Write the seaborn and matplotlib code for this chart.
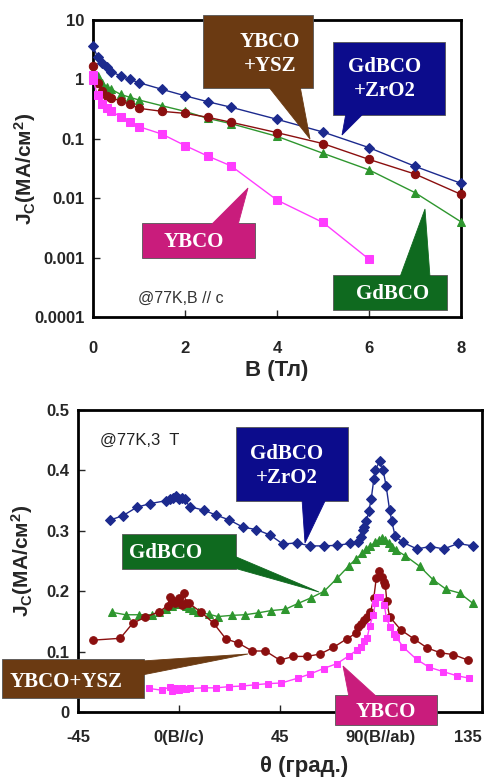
import matplotlib
matplotlib.use("Agg")
import matplotlib.pyplot as plt
from matplotlib.patches import Rectangle, Polygon
from matplotlib.ticker import NullLocator
import seaborn as sns
import pandas as pd

# ---- data: Jc(B), 77K, B // c ----
b_main = [0, 0.1, 0.2, 0.3, 0.4, 0.6, 0.8, 1.0, 1.5, 2, 2.5, 3, 4, 5, 6, 7, 8]
jc_gdbco_zro2 = [3.65, 2.36, 1.91, 1.64, 1.35, 1.14, 1.0, 0.88, 0.68, 0.53, 0.42, 0.34,
                 0.213, 0.13, 0.071, 0.0344, 0.0178]
jc_ybco_ysz = [1.70, 0.87, 0.65, 0.53, 0.48, 0.44, 0.38, 0.326, 0.29, 0.268, 0.23, 0.19,
               0.127, 0.083, 0.045, 0.0255, 0.0116]
jc_gdbco = [1.40, 1.15, 0.88, 0.75, 0.68, 0.56, 0.50, 0.45, 0.36, 0.29, 0.22, 0.18,
            0.11, 0.057, 0.030, 0.0124, 0.0040]
b_ybco = [0, 0, 0.1, 0.2, 0.3, 0.4, 0.6, 0.8, 1.0, 1.5, 2, 2.5, 3, 4, 5, 6]
jc_ybco = [1.2, 0.98, 0.55, 0.38, 0.33, 0.29, 0.235, 0.195, 0.16, 0.12, 0.077, 0.051,
           0.035, 0.0093, 0.0039, 0.00094]

# ---- data: Jc(theta), 77K, 3 T ----
th_gdbco_zro2 = [-30.6, -25, -18.8, -12.9, -5.6, -4.1, -2.5, -1.5, 0, 1.5, 2.6, 4.7, 11.2,
                 16.5, 22.4, 28.5, 34.5, 40.6, 46.3, 52.4, 58.4, 64.5, 70.6, 76.2, 79.8,
                 80.9, 82.0, 82.6, 83.5, 84.6, 85.6, 86.8, 87.5, 89.5, 90.9, 92.3, 93.8,
                 94.8, 96.3, 99.7, 106, 112, 118, 124.3, 130.8]
a_gdbco_zro2 = [0.318, 0.325, 0.339, 0.345, 0.350, 0.353, 0.355, 0.358, 0.353, 0.355, 0.352,
                0.340, 0.334, 0.326, 0.318, 0.306, 0.302, 0.293, 0.278, 0.280, 0.275, 0.275,
                0.276, 0.279, 0.281, 0.290, 0.302, 0.306, 0.316, 0.333, 0.352, 0.385, 0.401,
                0.416, 0.401, 0.374, 0.335, 0.316, 0.291, 0.281, 0.270, 0.274, 0.270, 0.279,
                0.275]
th_gdbco = [-29.7, -23.8, -18, -12, -9, -6, -3, -1, 0, 1.5, 3, 4.4, 6.3, 8.5, 13.2, 17.3,
            23.5, 29.4, 35, 41.2, 47.3, 53.2, 58.8, 64.7, 70.6, 75.7, 78.7, 81.6, 83.5,
            85.3, 87.5, 89, 90.4, 91.9, 93.4, 94.8, 96.7, 100.7, 107.3, 113.2, 119.1, 125,
            130.9]
a_gdbco = [0.165, 0.161, 0.161, 0.161, 0.166, 0.170, 0.175, 0.179, 0.181, 0.180, 0.176,
           0.173, 0.169, 0.165, 0.162, 0.158, 0.160, 0.161, 0.164, 0.168, 0.170, 0.180,
           0.189, 0.200, 0.222, 0.242, 0.253, 0.263, 0.270, 0.275, 0.281, 0.285, 0.288,
           0.284, 0.280, 0.274, 0.268, 0.259, 0.241, 0.219, 0.203, 0.197, 0.180]
th_ybco_ysz = [-38.2, -26.2, -20.6, -15, -8.8, -5.1, -4.1, -2.9, -1.8, 0, 1.5, 2.2, 3.2,
               4.4, 9.6, 15.4, 20.9, 26.5, 32.6, 38.5, 44.9, 51, 57, 62.9, 68.8, 74.7,
               78.7, 79.7, 80.9, 82.3, 83.8, 85.3, 86.8, 87.9, 89.2, 90.3, 91.2, 91.9,
               92.6, 93.8, 98.8, 104.7, 110.6, 116.5, 122.3, 128.7]
a_ybco_ysz = [0.119, 0.122, 0.147, 0.157, 0.166, 0.176, 0.190, 0.186, 0.180, 0.189, 0.177,
              0.197, 0.180, 0.180, 0.166, 0.147, 0.121, 0.114, 0.101, 0.101, 0.086, 0.092,
              0.092, 0.096, 0.107, 0.121, 0.130, 0.140, 0.146, 0.152, 0.157, 0.165, 0.189,
              0.222, 0.233, 0.224, 0.216, 0.211, 0.183, 0.158, 0.136, 0.121, 0.106, 0.098,
              0.095, 0.086]
th_ybco = [-13.5, -7.4, -4.1, -2.9, -1.8, 0, 1.5, 3.2, 4.7, 11, 16.5, 22.4, 28.2, 33.8,
           39.7, 45.6, 52.9, 58.5, 64.4, 70.3, 75.7, 79.1, 81.2, 82.3, 83.8, 85, 86.5,
           87.5, 88.2, 89.7, 91.5, 92.4, 94.1, 95.9, 96.8, 100, 105.9, 111.5, 117.6,
           123.8, 129.4]
a_ybco = [0.039, 0.036, 0.042, 0.034, 0.039, 0.036, 0.039, 0.038, 0.039, 0.040, 0.040,
          0.042, 0.043, 0.045, 0.047, 0.048, 0.056, 0.063, 0.072, 0.080, 0.093, 0.102,
          0.107, 0.117, 0.122, 0.143, 0.161, 0.180, 0.190, 0.190, 0.177, 0.155, 0.141,
          0.129, 0.124, 0.107, 0.087, 0.074, 0.067, 0.060, 0.056]

# colours per sample
C_BLUE, C_RED, C_GREEN, C_MAG = "#1c2a8e", "#8b0f0f", "#2e962e", "#ff3cff"
BOX_BLUE, BOX_BROWN, BOX_GREEN, BOX_MAG = "#0c0c8c", "#6b3a12", "#0f6a1f", "#c91c7c"

sns.set_style("ticks")
plt.rcParams["font.family"] = ["Liberation Sans", "DejaVu Sans"]
plt.rcParams["mathtext.default"] = "regular"

W, H = 485, 779
fig = plt.figure(figsize=(W / 100, H / 100), dpi=100)
ax1 = fig.add_axes([93 / W, 1 - 317 / H, (461 - 93) / W, (317 - 20) / H])
ax2 = fig.add_axes([78 / W, 1 - 712 / H, (482 - 78) / W, (712 - 410) / H])


def draw(ax, x, y, color, marker, ms):
    df = pd.DataFrame({"x": x, "y": y})
    sns.lineplot(data=df, x="x", y="y", ax=ax, estimator=None, sort=False,
                 color=color, lw=1.0, marker=marker, markersize=ms,
                 markerfacecolor=color, markeredgecolor=color, clip_on=False, zorder=3)


# ---- top panel ----
draw(ax1, b_main, jc_gdbco, C_GREEN, "^", 6)
draw(ax1, b_main, jc_ybco_ysz, C_RED, "o", 6)
draw(ax1, b_ybco, jc_ybco, C_MAG, "s", 5.5)
draw(ax1, b_main, jc_gdbco_zro2, C_BLUE, "D", 5)
ax1.set_yscale("log")
ax1.set_xlim(0, 8)
ax1.set_ylim(1e-4, 10)
ax1.set_xticks([0, 2, 4, 6, 8])
ax1.set_yticks([1e-4, 1e-3, 1e-2, 1e-1, 1, 10])
ax1.set_yticklabels(["0.0001", "0.001", "0.01", "0.1", "1", "10"])
ax1.yaxis.set_minor_locator(NullLocator())
ax1.set_xlabel("B (Тл)", fontsize=16, fontweight="bold")
ax1.xaxis.set_label_coords(0.5, -0.145)
ax1.text(0.122, 0.047, "@77K,B // c", transform=ax1.transAxes, fontsize=11.5, color="#333333")

# ---- bottom panel ----
draw(ax2, th_gdbco, a_gdbco, C_GREEN, "^", 5.5)
draw(ax2, th_ybco_ysz, a_ybco_ysz, C_RED, "o", 5.5)
draw(ax2, th_ybco, a_ybco, C_MAG, "s", 5)
draw(ax2, th_gdbco_zro2, a_gdbco_zro2, C_BLUE, "D", 5)
ax2.set_xlim(-45, 135)
ax2.set_ylim(0, 0.5)
ax2.set_xticks([-45, 0, 45, 90, 135])
ax2.set_xticklabels(["-45", "0(B//c)", "45", "90(B//ab)", "135"])
ax2.set_yticks([0, 0.1, 0.2, 0.3, 0.4, 0.5])
ax2.set_yticklabels(["0", "0.1", "0.2", "0.3", "0.4", "0.5"])
ax2.set_xlabel("θ (град.)", fontsize=16, fontweight="bold")
ax2.xaxis.set_label_coords(0.56, -0.145)
ax2.text(0.055, 0.885, "@77K,3  T", transform=ax2.transAxes, fontsize=12, color="#222222")

for ax, lx in ((ax1, -0.15), (ax2, -0.106)):
    ax.set_ylabel("J$_C$(MA/см$^2$)", fontsize=15, fontweight="bold")
    ax.yaxis.set_label_coords(lx, 0.5)
    ax.tick_params(direction="in", length=5, width=1, labelsize=12, pad=6)
    for lab in ax.get_xticklabels() + ax.get_yticklabels():
        lab.set_fontweight("bold")
    for sp in ax.spines.values():
        sp.set_linewidth(2)
        sp.set_color("black")
        sp.set_visible(True)
ax1.tick_params(axis="x", pad=17)
ax2.tick_params(axis="x", pad=13)
ax2.get_xticklabels()[-1].set_ha("right")


# ---- callout boxes (positions in picture pixels) ----
def px(p):
    return (p[0] / W, 1 - p[1] / H)


def callout(text, box, base, tip, color, tx, ty, fs=15):
    x0, y0, x1, y1 = box
    fig.patches.append(Rectangle(px((x0, y1)), (x1 - x0) / W, (y1 - y0) / H,
                                 transform=fig.transFigure, fc=color, ec="#555555",
                                 lw=0.6, zorder=5))
    fig.patches.append(Polygon([px(base[0]), px(base[1]), px(tip)], closed=True,
                               transform=fig.transFigure, fc=color, ec=color,
                               lw=0.6, zorder=5))
    fig.text(*px((tx, ty)), text, color="white", fontsize=fs, fontweight="bold",
             family=["Liberation Serif", "DejaVu Serif"], ha="center", va="center",
             linespacing=1.25, zorder=6)


callout("YBCO\n+YSZ", (203, 15, 313, 88), ((268, 86), (300, 86)), (310, 139),
        BOX_BROWN, 270, 54)
callout("GdBCO\n+ZrO2", (333, 42, 445, 115), ((346, 113), (364, 113)), (342, 135),
        BOX_BLUE, 385, 79)
callout("YBCO", (142, 223, 255, 258), ((211, 225), (238, 225)), (248, 188),
        BOX_MAG, 194, 242)
callout("GdBCO", (333, 275, 447, 310), ((400, 277), (430, 277)), (425, 209),
        BOX_GREEN, 393, 294)

callout("GdBCO\n+ZrO2", (236, 427, 348, 501), ((302, 499), (326, 499)), (305, 543),
        BOX_BLUE, 287, 466)
callout("GdBCO", (122, 534, 236, 569), ((234, 556), (234, 568)), (319, 592),
        BOX_GREEN, 166, 553)
callout("YBCO+YSZ", (2, 659, 144, 698), ((142, 661), (142, 675)), (248, 654),
        BOX_BROWN, 66, 682)
callout("YBCO", (335, 695, 437, 725), ((349, 697), (377, 697)), (343, 666),
        BOX_MAG, 386, 712)

fig.savefig("out.png", dpi=100)
